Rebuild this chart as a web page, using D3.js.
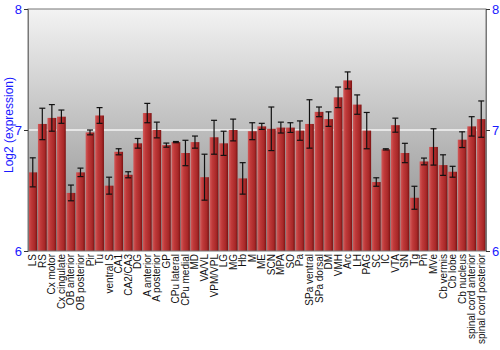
<!DOCTYPE html>
<html>
<head>
<meta charset="utf-8">
<script src="https://cdn.jsdelivr.net/npm/d3@7"></script>
<style>
  body { margin: 0; background: #fff; }
  svg { display: block; font-family: "Liberation Sans", Arial, sans-serif; }
</style>
</head>
<body>
<svg id="chart" width="500" height="350"></svg>
<script>
// regions
let regions = ['LS', 'RS', 'Cx motor', 'Cx cingulate', 'OB anterior', 'OB posterior', 'Pir', 'Tu',
    'ventral S', 'CA1', 'CA2/CA3', 'DG', 'A anterior', 'A posterior', 'GP', 'CPu lateral',
    'CPu medial', 'MD', 'VA/VL', 'VPM/VPL', 'LG', 'MG', 'Hb', 'M', 'ME', 'SCN', 'MPA', 'SO',
    'Pa', 'SPa ventral', 'SPa dorsal', 'DM', 'VMH', 'Arc', 'LH', 'PAG', 'SC', 'IC', 'VTA', 'SN',
    'Tg', 'Pn', 'MVe', 'Cb vermis', 'Cb lobe', 'Cb nucleus', 'spinal cord anterior', 'spinal cord posterior'];

// mean log2 expression
let means = [6.65, 7.05, 7.10, 7.11, 6.48, 6.65, 6.98, 7.12,
    6.54, 6.82, 6.63, 6.89, 7.14, 7.00, 6.875, 6.90,
    6.81, 6.90, 6.61, 6.94, 6.89, 7.00, 6.60, 6.99, 7.03, 7.01, 7.02, 7.02,
    6.995, 7.05, 7.15, 7.09, 7.27, 7.41, 7.21, 6.995, 6.57, 6.84, 7.04, 6.81,
    6.44, 6.74, 6.86, 6.71, 6.655, 6.92, 7.03, 7.09];

// error (half height of the bar)
let errs = [0.12, 0.13, 0.11, 0.055, 0.065, 0.035, 0.02, 0.065,
    0.07, 0.025, 0.025, 0.04, 0.08, 0.065, 0.017, 0.005,
    0.105, 0.05, 0.19, 0.14, 0.10, 0.09, 0.13, 0.07, 0.025, 0.18, 0.045, 0.04,
    0.08, 0.2, 0.04, 0.06, 0.085, 0.07, 0.08, 0.15, 0.035, 0.005, 0.058, 0.08,
    0.095, 0.028, 0.15, 0.085, 0.045, 0.065, 0.08, 0.15];

let yTicks = [6, 7, 8];

const margin = {left: 28, right: 14, top: 9, bottom: 99};
const width = 500, height = 350;

const svg = d3.select('#chart');

const x = d3.scaleBand()
    .domain(regions)
    .range([margin.left, width - margin.right])
    .paddingInner(0.08)
    .paddingOuter(0.04);

const y = d3.scaleLinear()
    .domain([6, 8])
    .range([height - margin.bottom, margin.top]);

const defs = svg.append('defs');

let bg = defs.append('linearGradient')
    .attr('id', 'bg')
    .attr('x1', 0).attr('y1', 0).attr('x2', 0).attr('y2', 1);
bg.append('stop').attr('offset', '0%').attr('stop-color', '#f3f3f3');
bg.append('stop').attr('offset', '100%').attr('stop-color', '#878787');

let barGrad = defs.append('linearGradient')
    .attr('id', 'bar')
    .attr('x1', 0).attr('y1', 0).attr('x2', 1).attr('y2', 0);
barGrad.append('stop').attr('offset', '0%').attr('stop-color', '#d25a5a');
barGrad.append('stop').attr('offset', '30%').attr('stop-color', '#c03a3a');
barGrad.append('stop').attr('offset', '75%').attr('stop-color', '#a82828');
barGrad.append('stop').attr('offset', '100%').attr('stop-color', '#7a1212');

// plot background
svg.append('rect')
    .attr('x', margin.left)
    .attr('y', margin.top)
    .attr('width', width - margin.left - margin.right)
    .attr('height', height - margin.top - margin.bottom)
    .attr('fill', 'url(#bg)');

// grid line at 7
svg.append('line')
    .attr('x1', margin.left)
    .attr('x2', width - margin.right)
    .attr('y1', y(7))
    .attr('y2', y(7))
    .attr('stroke', '#f4f4f4')
    .attr('stroke-width', 1.5);

// bars
svg.append('g')
    .selectAll('rect')
    .data(regions)
    .join('rect')
    .attr('x', d => x(d))
    .attr('width', x.bandwidth())
    .attr('y', (d, i) => y(means[i]))
    .attr('height', (d, i) => y(6) - y(means[i]))
    .attr('fill', 'url(#bar)');

// error bars
const eb = svg.append('g')
    .attr('stroke', '#111')
    .attr('stroke-width', 1.2);

eb.selectAll('line.v')
    .data(regions)
    .join('line')
    .attr('class', 'v')
    .attr('x1', d => x(d) + x.bandwidth() / 2)
    .attr('x2', d => x(d) + x.bandwidth() / 2)
    .attr('y1', (d, i) => y(means[i] + errs[i]))
    .attr('y2', (d, i) => y(means[i] - errs[i]));

eb.selectAll('line.top')
    .data(regions)
    .join('line')
    .attr('class', 'top')
    .attr('x1', d => x(d) + x.bandwidth() / 2 - 3)
    .attr('x2', d => x(d) + x.bandwidth() / 2 + 3)
    .attr('y1', (d, i) => y(means[i] + errs[i]))
    .attr('y2', (d, i) => y(means[i] + errs[i]));

eb.selectAll('line.bot')
    .data(regions)
    .join('line')
    .attr('class', 'bot')
    .attr('x1', d => x(d) + x.bandwidth() / 2 - 3)
    .attr('x2', d => x(d) + x.bandwidth() / 2 + 3)
    .attr('y1', (d, i) => y(means[i] - errs[i]))
    .attr('y2', (d, i) => y(means[i] - errs[i]));

// frame
svg.append('rect')
    .attr('x', margin.left)
    .attr('y', margin.top)
    .attr('width', width - margin.left - margin.right)
    .attr('height', height - margin.top - margin.bottom)
    .attr('fill', 'none')
    .attr('stroke', '#777')
    .attr('stroke-width', 1);

// axes
const leftAxis = svg.append('g')
    .attr('transform', 'translate(' + margin.left + ',0)')
    .call(d3.axisLeft(y).tickValues(yTicks).tickFormat(d3.format('d')).tickSize(4).tickPadding(2));

const rightAxis = svg.append('g')
    .attr('transform', 'translate(' + (width - margin.right) + ',0)')
    .call(d3.axisRight(y).tickValues(yTicks).tickFormat(d3.format('d')).tickSize(4).tickPadding(2));

[leftAxis, rightAxis].forEach(a => {
    a.select('.domain').attr('stroke', '#777');
    a.selectAll('.tick line').attr('stroke', '#333');
    a.selectAll('.tick text')
        .attr('fill', '#1a1aff')
        .style('font-size', '13px')
        .style('font-family', '"Liberation Sans", Arial, sans-serif');
});

// x labels
svg.append('g')
    .selectAll('text')
    .data(regions)
    .join('text')
    .attr('transform', d => 'translate(' + (x(d) + x.bandwidth() / 2 + 3.5) + ',' + (y(6) + 3) + ') rotate(-90)')
    .attr('text-anchor', 'end')
    .style('font-size', '10px')
    .attr('fill', '#111')
    .text(d => d);

// y title
svg.append('text')
    .attr('transform', 'translate(13,125) rotate(-90)')
    .attr('text-anchor', 'middle')
    .attr('fill', '#1a1aff')
    .style('font-size', '12px')
    .text('Log2 (expression)');
</script>
</body>
</html>
